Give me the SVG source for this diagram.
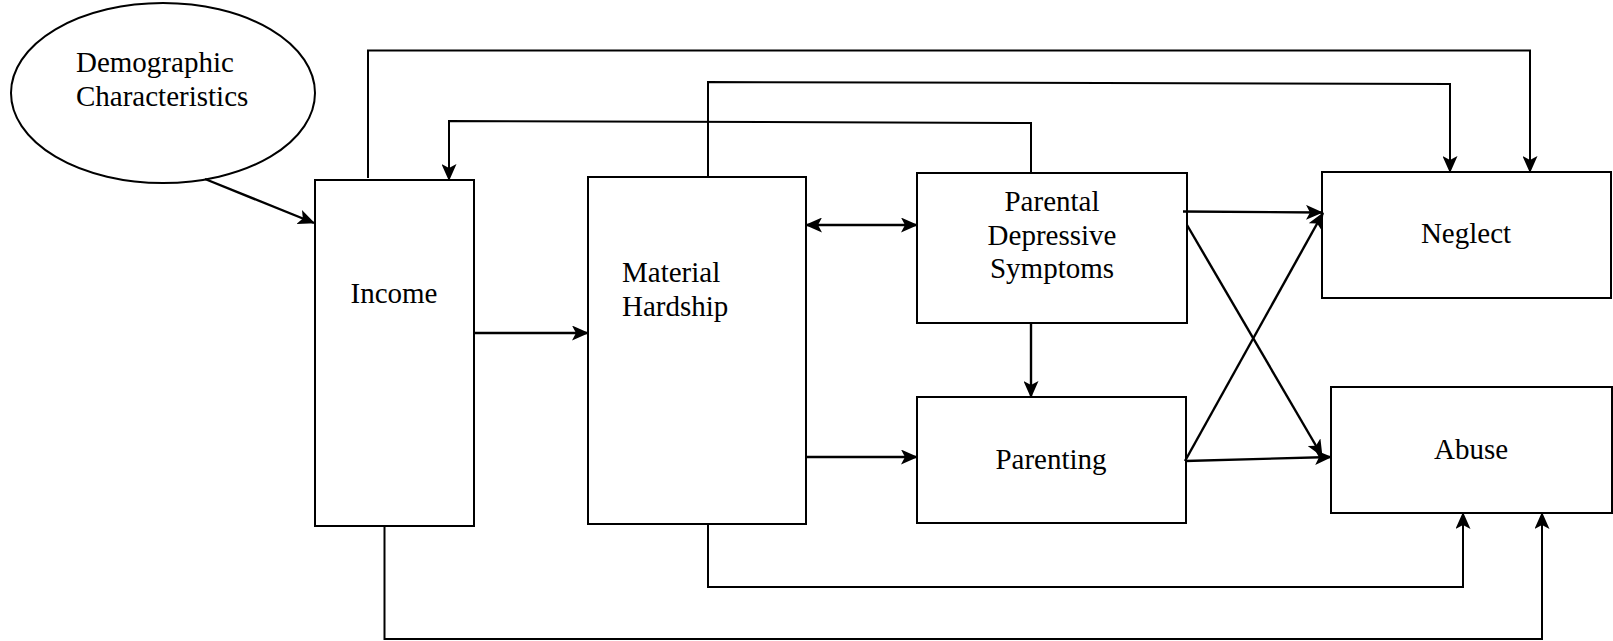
<svg xmlns="http://www.w3.org/2000/svg" width="1613" height="641" viewBox="0 0 1613 641">
<style>
.box{fill:#fff;stroke:#000;stroke-width:2}
.lbl{font-family:"Liberation Serif","Times New Roman",serif;font-size:29px;fill:#000}
.c{fill:none;stroke:#000;stroke-width:2}
.ca{fill:none;stroke:#000;stroke-width:2.4}
</style>
<defs>
<marker id="ah" viewBox="0 0 17 15" refX="16" refY="7.5" markerWidth="17" markerHeight="15" markerUnits="userSpaceOnUse" orient="auto-start-reverse">
<path d="M0,0 L17,7.5 L0,15 L4,7.5 Z" fill="#000"/>
</marker>
</defs>
<rect width="1613" height="641" fill="#fff"/>
<g id="demographic">
<ellipse cx="163" cy="93" rx="152" ry="90" class="box"/>
<text class="lbl" x="76" y="72">Demographic</text>
<text class="lbl" x="76" y="106">Characteristics</text>
</g>
<g id="income">
<rect x="315" y="180" width="159" height="346" class="box"/>
<text class="lbl" x="394" y="303" text-anchor="middle">Income</text>
</g>
<g id="material-hardship">
<rect x="588" y="177" width="218" height="347" class="box"/>
<text class="lbl" x="622" y="282">Material</text>
<text class="lbl" x="622" y="316">Hardship</text>
</g>
<g id="parental-depressive">
<rect x="917" y="173" width="270" height="150" class="box"/>
<text class="lbl" x="1052" y="211" text-anchor="middle">Parental</text>
<text class="lbl" x="1052" y="245" text-anchor="middle">Depressive</text>
<text class="lbl" x="1052" y="278" text-anchor="middle">Symptoms</text>
</g>
<g id="parenting">
<rect x="917" y="397" width="269" height="126" class="box"/>
<text class="lbl" x="1051" y="469" text-anchor="middle">Parenting</text>
</g>
<g id="neglect">
<rect x="1322" y="172" width="289" height="126" class="box"/>
<text class="lbl" x="1466" y="243" text-anchor="middle">Neglect</text>
</g>
<g id="abuse">
<rect x="1331" y="387" width="281" height="126" class="box"/>
<text class="lbl" x="1471" y="459" text-anchor="middle">Abuse</text>
</g>
<g id="connectors">
<line x1="205" y1="179" x2="314" y2="223" class="ca" marker-end="url(#ah)"/>
<line x1="474" y1="333" x2="588" y2="333" class="ca" marker-end="url(#ah)"/>
<line x1="806" y1="225" x2="917" y2="225" class="ca" marker-start="url(#ah)" marker-end="url(#ah)"/>
<line x1="806" y1="457" x2="917" y2="457" class="ca" marker-end="url(#ah)"/>
<line x1="1031" y1="323" x2="1031" y2="397" class="ca" marker-end="url(#ah)"/>
<polyline points="1031,173 1031,123 449,121 449,180" class="c" marker-end="url(#ah)"/>
<polyline points="368,178 368,50.5 1530,50.5 1530,172" class="c" marker-end="url(#ah)"/>
<polyline points="708,177 708,82 1450,84 1450,172" class="c" marker-end="url(#ah)"/>
<polyline points="708,524 708,587 1463,587 1463,513" class="c" marker-end="url(#ah)"/>
<polyline points="384.5,526 384.5,639 1542,639 1542,513" class="c" marker-end="url(#ah)"/>
<line x1="1183" y1="211.5" x2="1322" y2="212.5" class="ca" marker-end="url(#ah)"/>
<line x1="1187" y1="225" x2="1322" y2="456" class="ca" marker-end="url(#ah)"/>
<line x1="1185" y1="461" x2="1323" y2="213" class="ca" marker-end="url(#ah)"/>
<line x1="1185" y1="461" x2="1331" y2="457" class="ca" marker-end="url(#ah)"/>
</g>
</svg>
